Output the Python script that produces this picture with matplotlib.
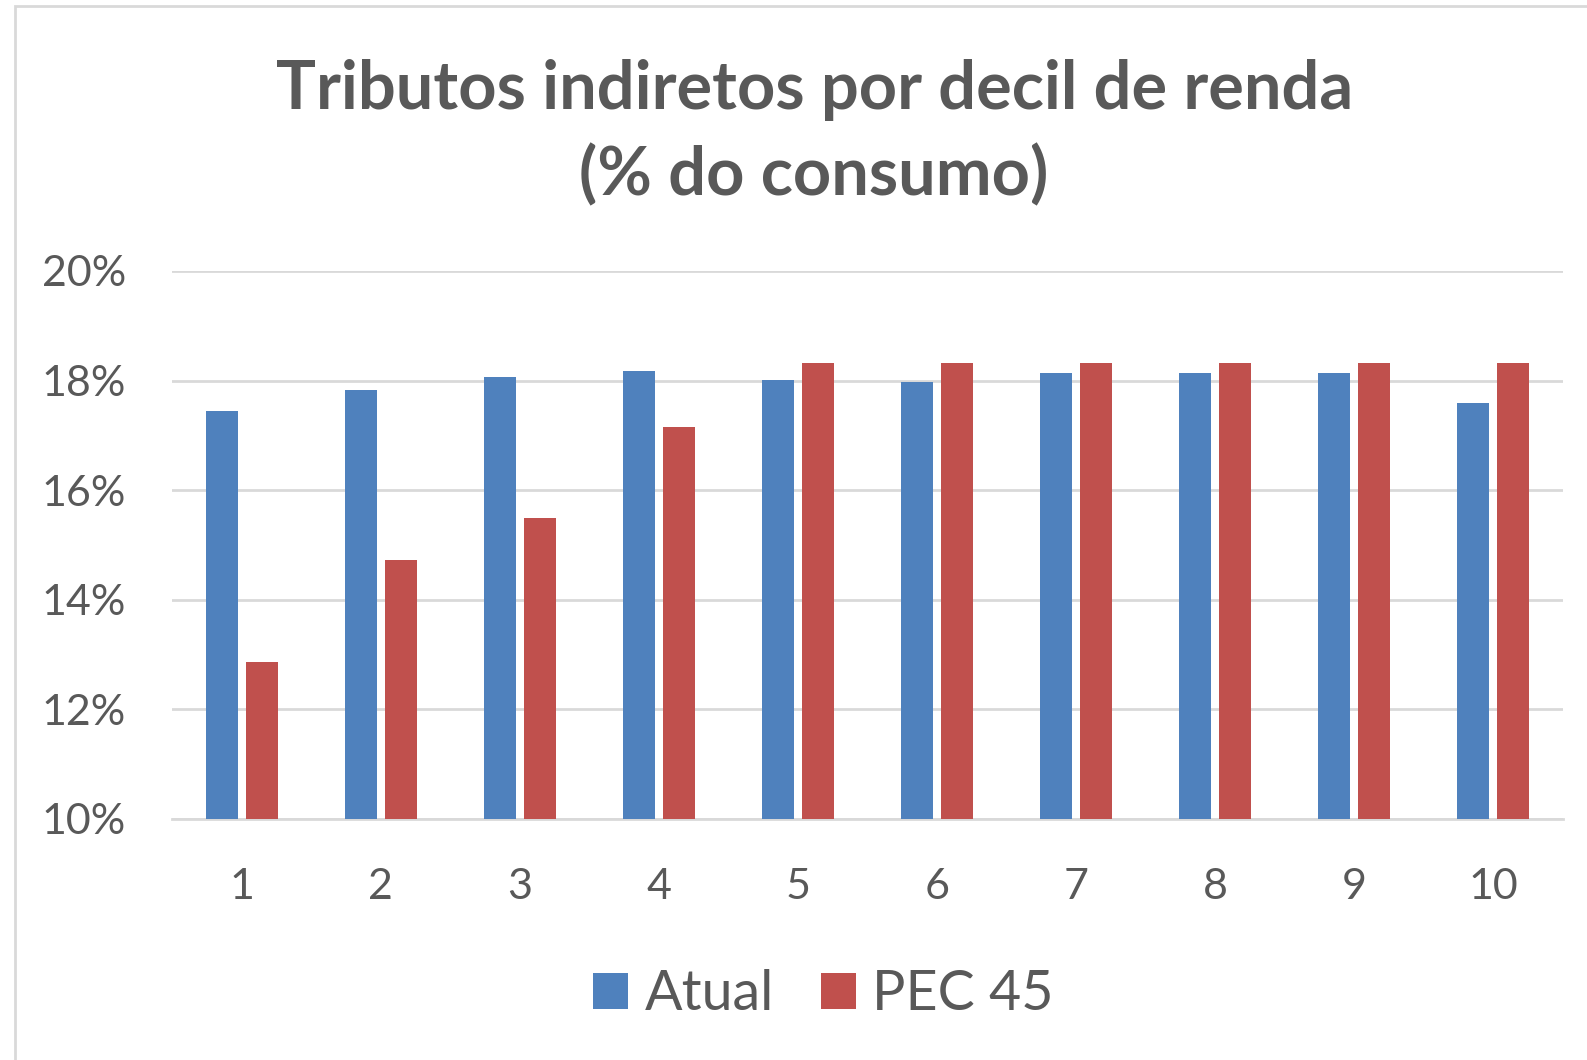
import matplotlib.pyplot as plt
import numpy as np
from matplotlib.patches import Rectangle

decis = ['1', '2', '3', '4', '5', '6', '7', '8', '9', '10']
atual = [17.44, 17.83, 18.07, 18.17, 18.02, 17.98, 18.13, 18.13, 18.13, 17.59]
pec45 = [12.87, 14.72, 15.50, 17.15, 18.32, 18.32, 18.32, 18.32, 18.32, 18.32]
yticks = [10, 12, 14, 16, 18, 20]

plt.rcParams['font.family'] = ['Lato', 'DejaVu Sans']
grey = '#595959'

fig = plt.figure(figsize=(15.87, 10.6), dpi=100)
W, H = 1587, 1060
ax = fig.add_axes([172 / W, 1 - 819 / H, (1563 - 172) / W, (819 - 271) / H])

x = np.arange(len(decis))
w = 0.23
gap = 0.057
ax.bar(x - (w + gap) / 2, atual, w, color='#4F81BD', label='Atual', zorder=3)
ax.bar(x + (w + gap) / 2, pec45, w, color='#C0504D', label='PEC 45', zorder=3)

ax.set_ylim(10, 20)
ax.set_xlim(-0.5, 9.5)
ax.set_yticks(yticks)
ax.set_yticklabels([f'{t}%' for t in yticks])
ax.set_xticks(x)
ax.set_xticklabels(decis)
ax.tick_params(length=0, labelsize=31, colors=grey)
ax.tick_params(axis='y', pad=33)
ax.tick_params(axis='x', pad=35)
ax.grid(axis='y', color='#D9D9D9', linewidth=2, zorder=0)
for s in ['top', 'right', 'left']:
    ax.spines[s].set_visible(False)
ax.spines['bottom'].set_color('#D9D9D9')
ax.spines['bottom'].set_linewidth(2)

fig.text(0.513, 1 - 90 / H, 'Tributos indiretos por decil de renda', ha='center', va='center',
         fontsize=48, fontweight='bold', color=grey)
fig.text(0.513, 1 - 176 / H, '(% do consumo)', ha='center', va='center',
         fontsize=48, fontweight='bold', color=grey)

leg = fig.legend(loc='center', bbox_to_anchor=(0.519, 1 - 995 / H), ncol=2, frameon=False,
                 fontsize=40, handlelength=0.62, handleheight=0.62, handletextpad=0.3,
                 columnspacing=0.85)
for t in leg.get_texts():
    t.set_color(grey)

fig.patches.append(Rectangle((15 / W, -0.1), 1.2, 1 - 6 / H + 0.1, transform=fig.transFigure,
                             fill=False, edgecolor='#D9D9D9', linewidth=2))

fig.savefig('out.png', dpi=100)
